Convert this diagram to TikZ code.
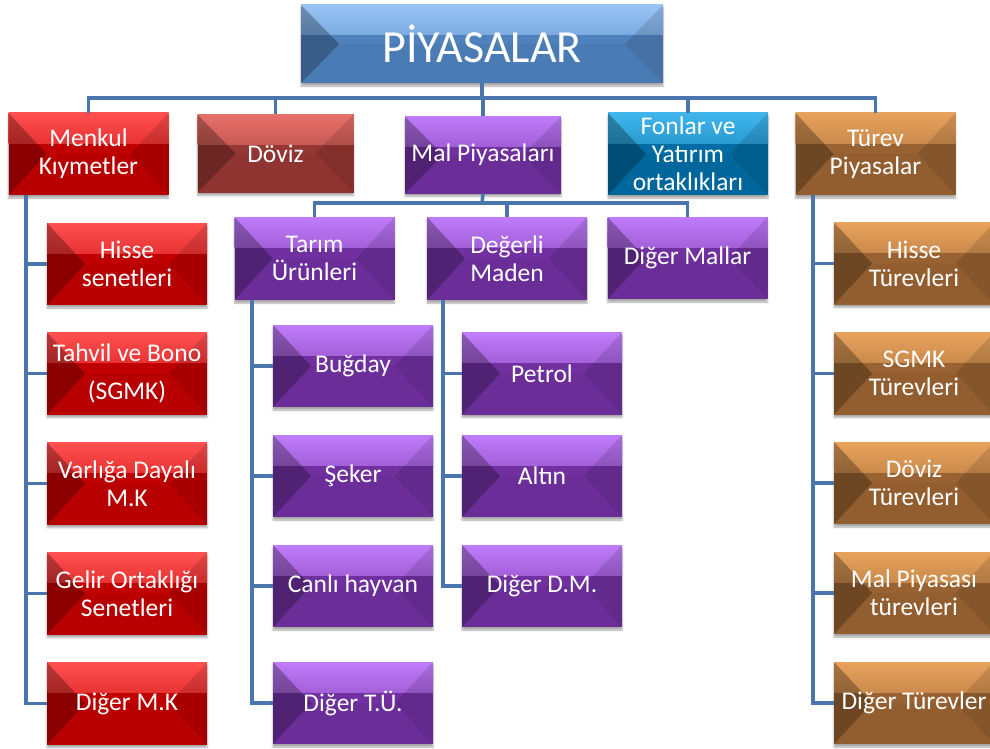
\documentclass[tikz,border=0pt]{standalone}
\usepackage{fontspec}
\setmainfont{Carlito}
\usetikzlibrary{shadows.blur}
\definecolor{redF}{RGB}{192,0,0}
\definecolor{redL}{RGB}{255,80,80}
\definecolor{dovF}{RGB}{150,55,52}
\definecolor{dovL}{RGB}{232,112,106}
\definecolor{purF}{RGB}{112,48,160}
\definecolor{purL}{RGB}{192,124,250}
\definecolor{tealF}{RGB}{0,108,163}
\definecolor{tealL}{RGB}{64,182,236}
\definecolor{brnF}{RGB}{152,98,50}
\definecolor{brnL}{RGB}{232,162,92}
\definecolor{bluF}{RGB}{79,129,189}
\definecolor{bluL}{RGB}{152,196,246}
\definecolor{lineC}{RGB}{74,118,173}
\begin{document}
\begin{tikzpicture}[x=1pt,y=-1pt,
  bx/.style={rectangle, inner sep=0pt, minimum width=160pt, minimum height=82pt,
    text=white, align=center, font=\fontsize{25.5}{28}\selectfont,
    blur shadow={shadow xshift=0pt, shadow yshift=-3pt, shadow opacity=35, shadow blur steps=4},
    fill=#1F,
    path picture={
      \shade[top color=#1L, bottom color=#1F] (path picture bounding box.north west) rectangle ([yshift=-30pt]path picture bounding box.north east);
      \fill[black, opacity=0.28] (path picture bounding box.north west) -- (path picture bounding box.south west) -- ([xshift=38pt]path picture bounding box.west) -- cycle;
      \fill[black, opacity=0.12] (path picture bounding box.north east) -- (path picture bounding box.south east) -- ([xshift=-38pt]path picture bounding box.east) -- cycle;
      \fill[black, opacity=0.04] (path picture bounding box.south west) -- (path picture bounding box.south east) -- ([xshift=-38pt]path picture bounding box.east) -- ([xshift=38pt]path picture bounding box.west) -- cycle;
    }},
  conn/.style={draw=lineC, line width=3.5pt}
]
\useasboundingbox (0,0) rectangle (990,749);

% root
\node[bx=blu, minimum width=362pt, minimum height=78pt, font=\fontsize{46}{50}\selectfont] (root) at (482,44) {PİYASALAR};

% level 1
\node[bx=red] (menkul) at (88.5,154) {Menkul\\Kıymetler};
\node[bx=dov, minimum width=156pt, minimum height=78pt] (doviz) at (275.5,153.5) {Döviz};
\node[bx=pur, minimum width=156pt, minimum height=77pt] (mal) at (483,155) {Mal Piyasaları};
\node[bx=teal] (fonlar) at (688,154) {Fonlar ve\\Yatırım\\ortaklıkları};
\node[bx=brn] (turev) at (875.5,154) {Türev\\Piyasalar};

% level 2 (Mal)
\node[bx=pur, minimum height=83pt] (tarim) at (314.5,258.5) {Tarım\\Ürünleri};
\node[bx=pur, minimum height=83pt] (degerli) at (507,258.5) {Değerli\\Maden};
\node[bx=pur] (digermal) at (687.5,258) {Diğer Mallar};

% Menkul children
\node[bx=red] (hisse) at (127,264) {Hisse\\senetleri};
\node[bx=red] (tahvil) at (127,373.5) {Tahvil ve Bono\\[10pt](SGMK)};
\node[bx=red] (varliga) at (127,483.5) {Varlığa Dayalı\\M.K};
\node[bx=red] (gelir) at (127,593.5) {Gelir Ortaklığı\\Senetleri};
\node[bx=red] (digermk) at (127,703.5) {Diğer M.K};

% Tarim children
\node[bx=pur] (bugday) at (353,366) {Buğday};
\node[bx=pur] (seker) at (353,476) {Şeker};
\node[bx=pur] (canli) at (353,586) {Canlı hayvan};
\node[bx=pur] (digertu) at (353,703) {Diğer T.Ü.};

% Degerli children
\node[bx=pur] (petrol) at (542,373.5) {Petrol};
\node[bx=pur] (altin) at (542,476) {Altın};
\node[bx=pur] (digerdm) at (542,586) {Diğer D.M.};

% Turev children
\node[bx=brn] (hisset) at (914,263.5) {Hisse\\Türevleri};
\node[bx=brn] (sgmkt) at (914,373.5) {SGMK\\Türevleri};
\node[bx=brn] (dovizt) at (914,483) {Döviz\\Türevleri};
\node[bx=brn] (malt) at (914,593) {Mal Piyasası\\türevleri};
\node[bx=brn] (digert) at (914,703) {Diğer Türevler};

% connectors
\begin{scope}[on background layer/.try]
\end{scope}
\coordinate (bus1) at (482,98);
\draw[conn] (root.south) -- (bus1);
\draw[conn] (menkul.north) |- (bus1) -| (turev.north);
\draw[conn] (doviz.north) -- (doviz.north |- bus1);
\draw[conn] (mal.north) -- (mal.north |- bus1);
\draw[conn] (fonlar.north) -- (fonlar.north |- bus1);

\coordinate (bus2) at (482,203);
\draw[conn] (mal.south) -- (bus2);
\draw[conn] (tarim.north) |- (bus2) -| (digermal.north);
\draw[conn] (degerli.north) -- (degerli.north |- bus2);

\coordinate (mkb) at (26,195);
\draw[conn] (mkb) |- (digermk.west);
\foreach \n in {hisse,tahvil,varliga,gelir} \draw[conn] (\n.west) -- (\n.west -| mkb);

\coordinate (tub) at (252,300);
\draw[conn] (tub) |- (digertu.west);
\foreach \n in {bugday,seker,canli} \draw[conn] (\n.west) -- (\n.west -| tub);

\coordinate (dmb) at (443,300);
\draw[conn] (dmb) |- (digerdm.west);
\foreach \n in {petrol,altin} \draw[conn] (\n.west) -- (\n.west -| dmb);

\coordinate (tvb) at (813,195);
\draw[conn] (tvb) |- (digert.west);
\foreach \n in {hisset,sgmkt,dovizt,malt} \draw[conn] (\n.west) -- (\n.west -| tvb);
\end{tikzpicture}
\end{document}
